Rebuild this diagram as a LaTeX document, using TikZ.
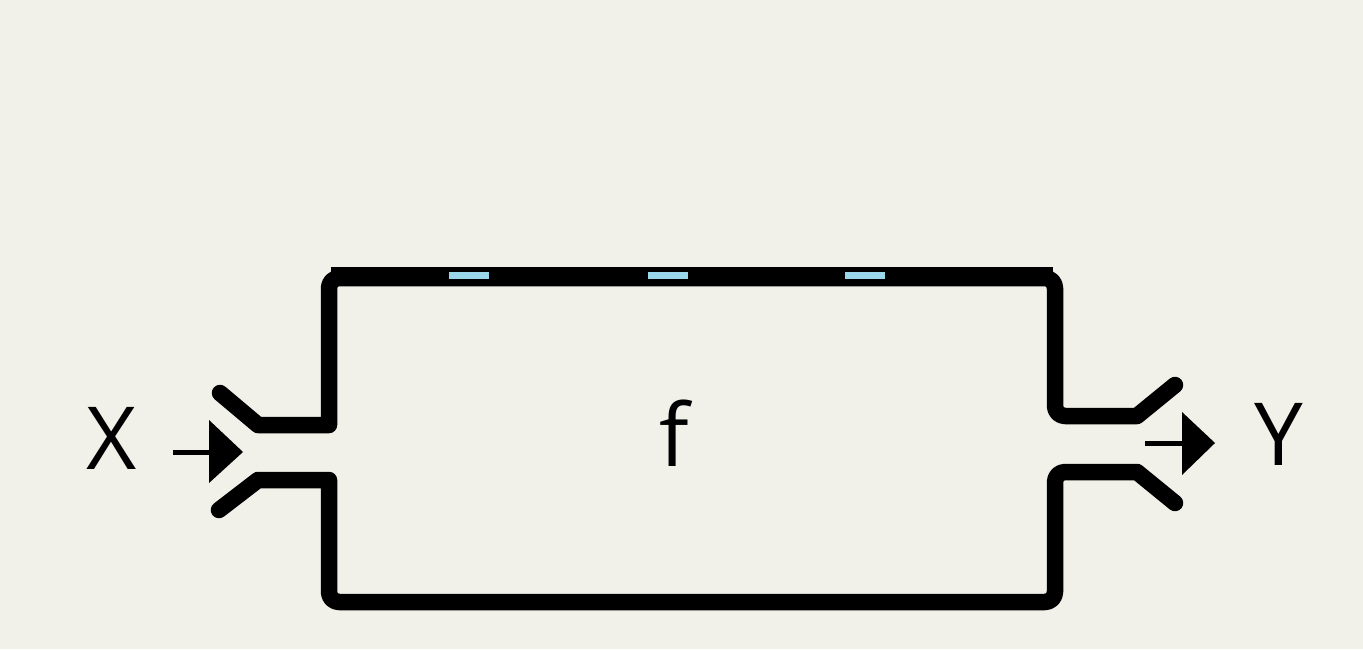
\documentclass[tikz,border=0pt]{standalone}
\usepackage{fontspec}
\setmainfont{Open Sans}
\definecolor{bg}{RGB}{241,240,233}
\definecolor{slot}{RGB}{155,215,235}
\begin{document}
\begin{tikzpicture}[x=1pt,y=-1pt,
  wall/.style={line width=16.5pt, line cap=round, line join=round},
  thinarrow/.style={line width=5pt},
  head/.style={fill=black},
  lbl/.style={anchor=base west, inner sep=0pt, font=\fontsize{87}{100}\selectfont}]
\useasboundingbox (0,0) rectangle (1363,649);
\fill[bg] (0,0) rectangle (1363,649);
% upper wall
\draw[wall] (220,393) -- (258,425) -- (329,425) [rounded corners=10pt] -- (329,278) -- (1055,278) -- (1055,416) [sharp corners] -- (1137,416) -- (1175,385);
% lower wall
\draw[wall] (219,510) -- (258,480) -- (329,480) [rounded corners=10pt] -- (329,602) -- (1055,602) -- (1055,472) [sharp corners] -- (1137,472) -- (1175,503);
% top rim
\draw[line width=5pt] (331,269) -- (1053,269);
\fill[slot] (449,272) rectangle (489,279);
\fill[slot] (648,272) rectangle (688,279);
\fill[slot] (845,272) rectangle (885,279);
% labels
\node[lbl] (x) at (86,469) {X};
\node[lbl] (y) at (1254,465) {Y};
\node[lbl] (f) at (659,466) {f};
% arrows
\coordinate (ia) at (173,452);
\coordinate (ib) at (211,452);
\draw[thinarrow] (ia) -- (ib);
\fill[head] (209,420) -- (243,452) -- (209,483) -- cycle;
\coordinate (oa) at (1145,443);
\coordinate (ob) at (1184,443);
\draw[thinarrow] (oa) -- (ob);
\fill[head] (1182,412) -- (1215,443) -- (1182,475) -- cycle;
\end{tikzpicture}
\end{document}
